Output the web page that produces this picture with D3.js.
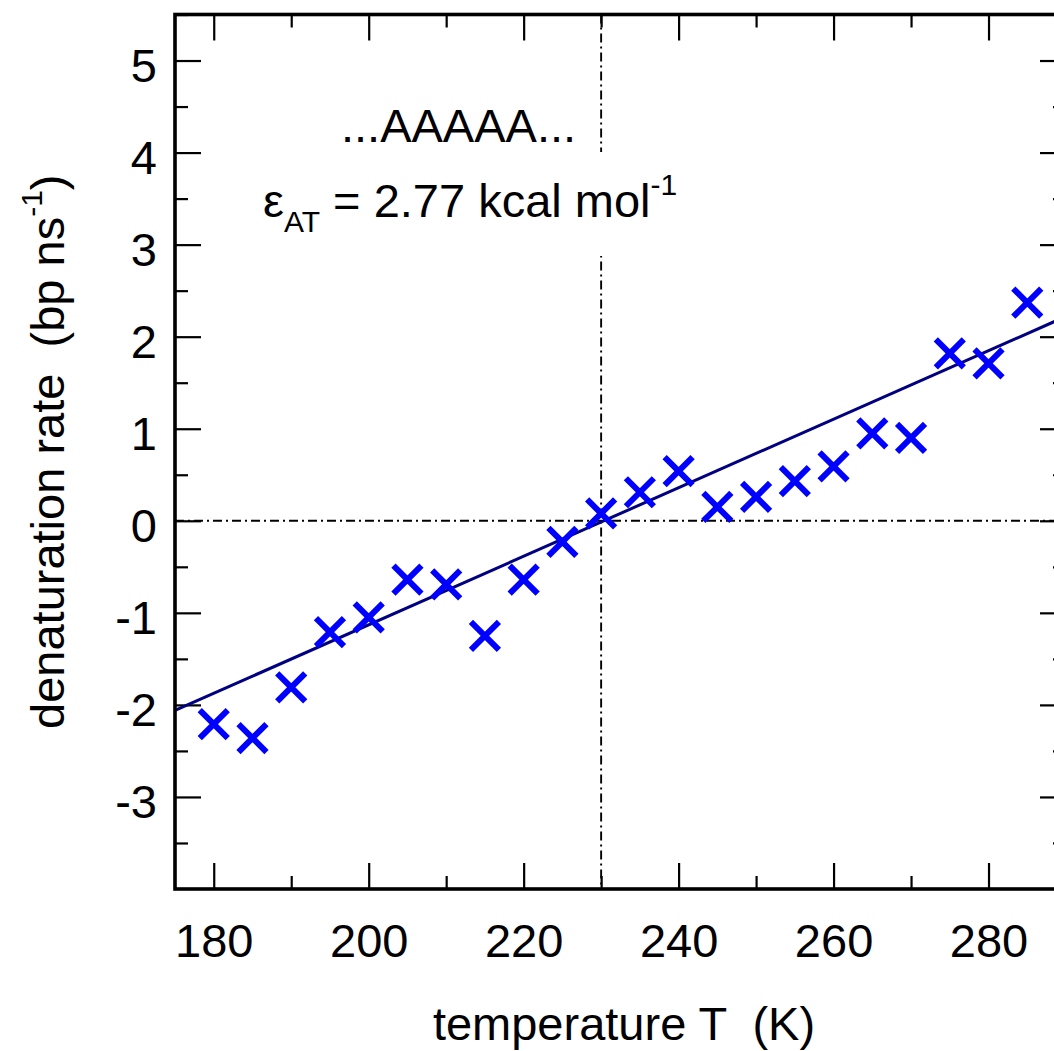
<!DOCTYPE html>
<html><head><meta charset="utf-8">
<script src="https://cdn.jsdelivr.net/npm/d3@7"></script>
<style>body{margin:0;background:#fff;} text{font-family:"Liberation Sans",Arial,Helvetica,sans-serif;white-space:pre;}</style>
</head><body>
<svg id="chart" width="1054" height="1051"></svg>
<script>
// ---- data ----
const temperatures = [180,185,190,195,200,205,210,215,220,225,230,235,240,245,250,255,260,265,270,275,280,285];
const rates = [-2.21,-2.36,-1.81,-1.21,-1.05,-0.64,-0.69,-1.25,-0.64,-0.23,0.08,0.31,0.54,0.15,0.26,0.43,0.59,0.95,0.90,1.82,1.71,2.37];
const fitT = [175, 290];
const fitRate = [-2.06, 2.22];
const xMajorTicks = [180,200,220,240,260,280];
const xMinorTicks = [190,210,230,250,270,290];
const yMajorTicks = [-3,-2,-1,0,1,2,3,4,5];
const yMinorTicks = [-3.5,-2.5,-1.5,-0.5,0.5,1.5,2.5,3.5,4.5,5.5];
const xTitle = "temperature T  (K)";
const yTitle = "denaturation rate  (bp ns";
const seqLabel = "...AAAAA...";

// ---- layout ----
const L = 175, R = 1066, T = 14.5, B = 889;
const svg = d3.select("#chart");
const x = d3.scaleLinear().domain([175, 290]).range([L, R]);
const y = d3.scaleLinear().domain([-4, 5.5]).range([B, T]);
const FS = 47;

svg.append("defs").append("clipPath").attr("id","clip")
  .append("rect").attr("x",L).attr("y",T).attr("width",R-L).attr("height",B-T);

// axes (ticks inward)
function styleAxis(g){
  g.select(".domain").remove();
  g.selectAll(".tick line").attr("stroke","#000").attr("stroke-width",2.2);
  g.selectAll("text").attr("font-size",FS).attr("fill","#000").attr("font-family","'Liberation Sans',Arial,sans-serif");
}
const gb = svg.append("g").attr("transform",`translate(0,${B})`)
  .call(d3.axisBottom(x).tickValues(xMajorTicks).tickSize(-26).tickFormat(d=>d));
styleAxis(gb);
gb.selectAll("text").attr("y",68).attr("dy",0);
const gbm = svg.append("g").attr("transform",`translate(0,${B})`)
  .call(d3.axisBottom(x).tickValues(xMinorTicks).tickSize(-13).tickFormat(""));
styleAxis(gbm);
const gt = svg.append("g").attr("transform",`translate(0,${T})`)
  .call(d3.axisTop(x).tickValues(xMajorTicks).tickSize(-26).tickFormat(""));
styleAxis(gt);
const gtm = svg.append("g").attr("transform",`translate(0,${T})`)
  .call(d3.axisTop(x).tickValues(xMinorTicks).tickSize(-13).tickFormat(""));
styleAxis(gtm);

const gl = svg.append("g").attr("transform",`translate(${L},0)`)
  .call(d3.axisLeft(y).tickValues(yMajorTicks).tickSize(-26).tickFormat(d=>d));
styleAxis(gl);
gl.selectAll("text").attr("x",-18).attr("dy",0).attr("y",21).attr("text-anchor","end");
const glm = svg.append("g").attr("transform",`translate(${L},0)`)
  .call(d3.axisLeft(y).tickValues(yMinorTicks).tickSize(-13).tickFormat(""));
styleAxis(glm);
const gr = svg.append("g").attr("transform",`translate(${R},0)`)
  .call(d3.axisRight(y).tickValues(yMajorTicks).tickSize(-26).tickFormat(""));
styleAxis(gr);
const grm = svg.append("g").attr("transform",`translate(${R},0)`)
  .call(d3.axisRight(y).tickValues(yMinorTicks).tickSize(-13).tickFormat(""));
styleAxis(grm);

// zero reference lines (dash-dot)
const plot = svg.append("g").attr("clip-path","url(#clip)");
plot.append("line").attr("x1",x(175)).attr("x2",x(290)).attr("y1",y(0)).attr("y2",y(0))
  .attr("stroke","#000").attr("stroke-width",1.9).attr("stroke-dasharray","9,4,2,4");
plot.append("line").attr("x1",x(230)).attr("x2",x(230)).attr("y1",y(5.5)).attr("y2",y(-4))
  .attr("stroke","#000").attr("stroke-width",1.9).attr("stroke-dasharray","9,4,2,4");

// fit line
plot.append("path").datum(fitT.map((t,i)=>[t,fitRate[i]]))
  .attr("d", d3.line().x(d=>x(d[0])).y(d=>y(d[1])))
  .attr("fill","none").attr("stroke","#000080").attr("stroke-width",3);

// markers
const s = 14;
const pts = plot.selectAll("g.pt").data(temperatures.map((t,i)=>[t,rates[i]])).join("g")
  .attr("class","pt").attr("transform",d=>`translate(${x(d[0])},${y(d[1])})`);
pts.append("path").attr("d",`M${-s},${-s}L${s},${s}M${-s},${s}L${s},${-s}`)
  .attr("stroke","#0000ff").attr("stroke-width",6).attr("fill","none");

// frame
svg.append("rect").attr("x",L).attr("y",T).attr("width",R-L).attr("height",B-T)
  .attr("fill","none").attr("stroke","#000").attr("stroke-width",3.6);

// annotations
svg.append("rect").attr("x",255).attr("y",152).attr("width",450).attr("height",104).attr("fill","#fff");
svg.append("text").attr("x",341).attr("y",142).attr("font-size",FS).text(seqLabel);
const eps = svg.append("text").attr("x",263).attr("y",217).attr("font-size",FS);
eps.append("tspan").text("ε");
eps.append("tspan").attr("font-size",30).attr("dy",15).text("AT");
eps.append("tspan").attr("dy",-15).text(" = 2.77 kcal mol");
eps.append("tspan").attr("font-size",30).attr("dy",-22).text("-1");

// axis titles
svg.append("text").attr("x",624).attr("y",1040).attr("text-anchor","middle")
  .attr("font-size",FS).text(xTitle);
const yt = svg.append("text").attr("transform",`translate(64,${(T+B)/2}) rotate(-90)`)
  .attr("text-anchor","middle").attr("font-size",FS);
yt.append("tspan").text(yTitle);
yt.append("tspan").attr("font-size",30).attr("dy",-22).text("-1");
yt.append("tspan").attr("dy",22).text(")");
</script>
</body></html>
